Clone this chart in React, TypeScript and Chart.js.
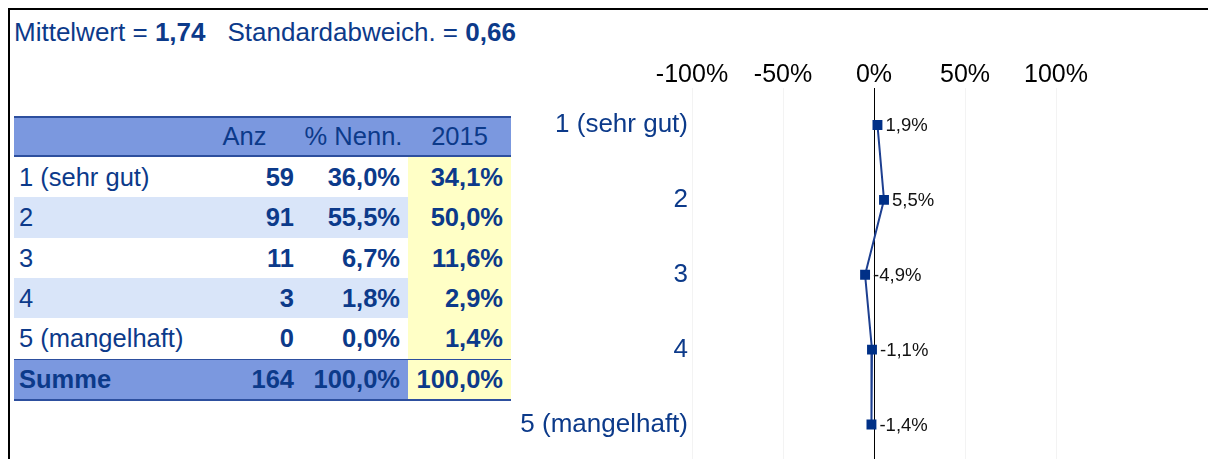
import React, { useEffect, useRef } from 'react';
import { Chart, registerables } from 'chart.js';

Chart.register(...registerables);

// ---- data ----
const categories = ['1 (sehr gut)', '2', '3', '4', '5 (mangelhaft)'];
const diffValues = [1.9, 5.5, -4.9, -1.1, -1.4];
const xTickValues = [-100, -50, 0, 50, 100];

const tableHeaders = ['', 'Anz', '% Nenn.', '2015'];
const tableLabels = ['1 (sehr gut)', '2', '3', '4', '5 (mangelhaft)'];
const counts = ['59', '91', '11', '3', '0'];
const pctNenn = ['36,0%', '55,5%', '6,7%', '1,8%', '0,0%'];
const pct2015 = ['34,1%', '50,0%', '11,6%', '2,9%', '1,4%'];
const sumRow = ['Summe', '164', '100,0%', '100,0%'];
const meanValue = '1,74';
const sdValue = '0,66';

const BLUE = '#0c3a8a';
const FONT = '"Liberation Sans", Arial, sans-serif';
const HEADER_BG = '#7b98df';
const LIGHT_ROW = '#d9e5f9';
const YELLOW = '#ffffc6';
const LINE = '#2d4f9e';

const fmt = (v: number) => v.toFixed(1).replace('.', ',') + '%';

const labelPlugin = {
  id: 'pointLabels',
  afterDatasetsDraw(chart: any) {
    const ctx = chart.ctx;
    const meta = chart.getDatasetMeta(0);
    ctx.save();
    ctx.font = `18.5px ${FONT}`;
    ctx.fillStyle = '#111';
    ctx.textAlign = 'left';
    ctx.textBaseline = 'middle';
    meta.data.forEach((pt: any, i: number) => {
      ctx.fillText(fmt(diffValues[i]), pt.x + 8, pt.y + 1);
    });
    ctx.restore();
  },
};

function DiffChart() {
  const ref = useRef<HTMLCanvasElement>(null);
  useEffect(() => {
    if (!ref.current) return;
    const chart = new Chart(ref.current, {
      type: 'line',
      data: {
        labels: categories,
        datasets: [
          {
            data: diffValues,
            borderColor: '#1d3f90',
            borderWidth: 2,
            backgroundColor: '#003087',
            pointBackgroundColor: '#003087',
            pointBorderColor: '#003087',
            pointStyle: 'rect',
            pointRadius: 7,
            pointBorderWidth: 0,
            tension: 0,
          },
        ],
      },
      options: {
        indexAxis: 'y',
        animation: false,
        responsive: false,
        devicePixelRatio: 1,
        layout: { padding: { left: 0, right: 44, top: 0, bottom: 0 } },
        plugins: { legend: { display: false }, tooltip: { enabled: false } },
        scales: {
          x: {
            type: 'linear',
            position: 'top',
            min: -100,
            max: 100,
            afterBuildTicks: (s: any) => {
              s.ticks = xTickValues.map((v) => ({ value: v }));
            },
            afterFit: (s: any) => {
              s.height = 37.5;
            },
            ticks: {
              callback: (v: any) => v + '%',
              color: '#000',
              font: { family: FONT, size: 25 },
              padding: -3,
              maxRotation: 0,
              autoSkip: false,
            },
            grid: {
              drawTicks: false,
              color: (c: any) => (c.tick && c.tick.value === 0 ? '#000' : '#f3f3f3'),
              lineWidth: 1,
            },
            border: { display: false },
          },
          y: {
            type: 'category',
            offset: true,
            afterFit: (s: any) => {
              s.width = 192;
              s.paddingTop = 0;
              s.paddingBottom = 0;
            },
            ticks: {
              color: BLUE,
              font: { family: FONT, size: 26 },
              padding: 4,
              autoSkip: false,
            },
            grid: { display: false, drawTicks: false },
            border: { display: false },
          },
        },
      },
      plugins: [labelPlugin],
    } as any);
    return () => chart.destroy();
  }, []);
  return (
    <canvas
      ref={ref}
      width={600}
      height={419}
      style={{ position: 'absolute', left: 490, top: 40, width: 600, height: 419 }}
    />
  );
}

const colWidths = [176, 109, 109, 103];

function Cell({
  text,
  width,
  align,
  bold,
  bg,
  padRight,
}: {
  text: string;
  width: number;
  align: 'left' | 'right' | 'center';
  bold?: boolean;
  bg: string;
  padRight?: number;
}) {
  return (
    <div
      style={{
        width,
        height: '100%',
        background: bg,
        display: 'flex',
        alignItems: 'center',
        justifyContent: align === 'left' ? 'flex-start' : align === 'right' ? 'flex-end' : 'center',
        paddingLeft: align === 'left' ? 5 : 0,
        paddingRight: align === 'right' ? padRight ?? 6 : 0,
        boxSizing: 'border-box',
        fontWeight: bold ? 'bold' : 'normal',
        whiteSpace: 'nowrap',
      }}
    >
      {text}
    </div>
  );
}

function DataTable() {
  const rowTops = [157, 197, 238, 278, 318];
  const rowHeights = [40, 41, 40, 40, 41];
  return (
    <div
      style={{
        position: 'absolute',
        left: 4,
        top: 106,
        width: 497,
        height: 284,
        fontFamily: FONT,
        fontSize: 25.5,
        color: BLUE,
      }}
    >
      {/* header */}
      <div
        style={{
          position: 'absolute',
          left: 0,
          top: 0,
          width: 497,
          height: 41,
          display: 'flex',
          borderTop: `2px solid ${LINE}`,
          borderBottom: `2px solid ${LINE}`,
          boxSizing: 'border-box',
          background: HEADER_BG,
        }}
      >
        {tableHeaders.map((h, i) => (
          <Cell key={i} text={h} width={colWidths[i]} align="center" bg={HEADER_BG} />
        ))}
      </div>
      {tableLabels.map((lab, r) => {
        const bg = r % 2 === 1 ? LIGHT_ROW : '#fff';
        return (
          <div
            key={r}
            style={{
              position: 'absolute',
              left: 0,
              top: rowTops[r] - 116,
              width: 497,
              height: rowHeights[r],
              display: 'flex',
            }}
          >
            <Cell text={lab} width={colWidths[0]} align="left" bg={bg} />
            <Cell text={counts[r]} width={colWidths[1]} align="right" bold bg={bg} padRight={5} />
            <Cell text={pctNenn[r]} width={colWidths[2]} align="right" bold bg={bg} padRight={8} />
            <Cell text={pct2015[r]} width={colWidths[3]} align="right" bold bg={YELLOW} padRight={8} />
          </div>
        );
      })}
      {/* sum row */}
      <div
        style={{
          position: 'absolute',
          left: 0,
          top: 359 - 116,
          width: 497,
          height: 42,
          display: 'flex',
          borderTop: `1px solid ${LINE}`,
          borderBottom: `2px solid ${LINE}`,
          boxSizing: 'border-box',
        }}
      >
        <Cell text={sumRow[0]} width={colWidths[0]} align="left" bold bg={HEADER_BG} />
        <Cell text={sumRow[1]} width={colWidths[1]} align="right" bold bg={HEADER_BG} padRight={5} />
        <Cell text={sumRow[2]} width={colWidths[2]} align="right" bold bg={HEADER_BG} padRight={8} />
        <Cell text={sumRow[3]} width={colWidths[3]} align="right" bold bg={YELLOW} padRight={8} />
      </div>
    </div>
  );
}

export default function App() {
  return (
    <>
      <style>{`html,body{overflow:hidden;}`}</style>
      <div
        style={{
          position: 'relative',
          width: 1208,
          height: 451,
          borderTop: '2px solid #000',
          borderLeft: '2px solid #000',
          boxSizing: 'border-box',
          overflow: 'hidden',
          background: '#fff',
        }}
      >
        <div
          style={{
            position: 'absolute',
            left: 4,
            top: 7,
            height: 30,
            lineHeight: '30px',
            fontFamily: FONT,
            fontSize: 26,
            color: BLUE,
            whiteSpace: 'nowrap',
          }}
        >
          Mittelwert = <b>{meanValue}</b>
          <span style={{ marginLeft: 22 }}>Standardabweich. = </span>
          <b>{sdValue}</b>
        </div>
        <DataTable />
        <DiffChart />
      </div>
    </>
  );
}
